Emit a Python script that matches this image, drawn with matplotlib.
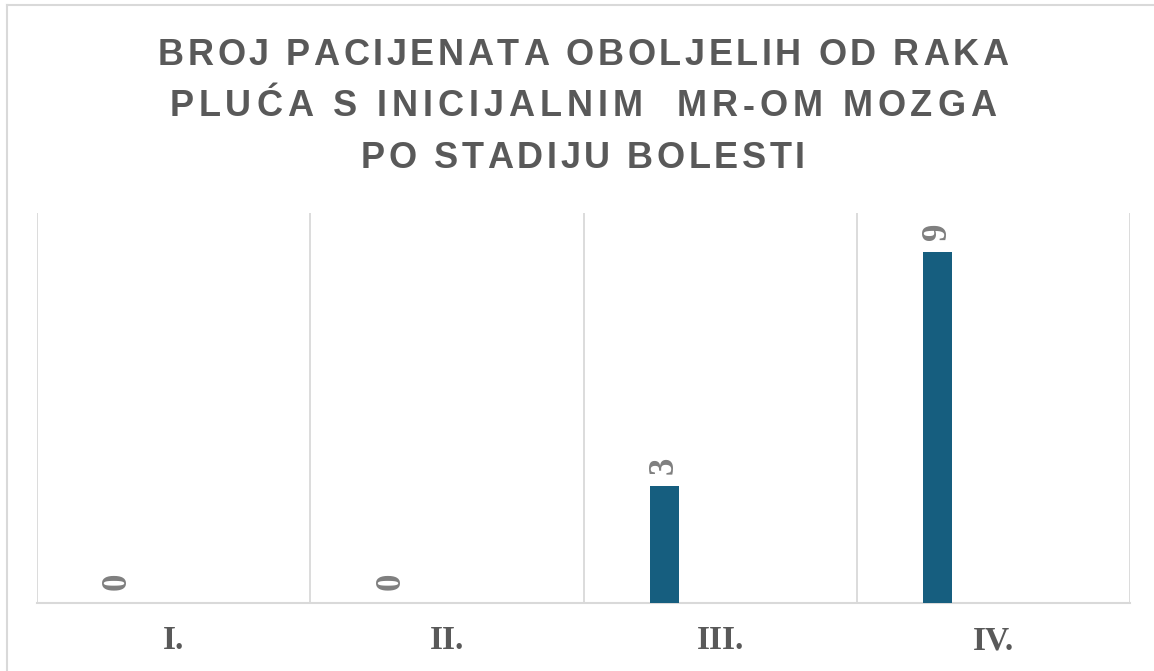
import matplotlib.pyplot as plt
import numpy as np

categories = ["I.", "II.", "III.", "IV."]
counts = [0, 0, 3, 9]
title_lines = ["BROJ PACIJENATA OBOLJELIH OD RAKA",
               "PLUĆA S INICIJALNIM  MR-OM MOZGA",
               "PO STADIJU BOLESTI"]
title_spacing = [3.6, 4.9, 3.6]

bar_color = "#165e7f"
text_gray = "#595959"
label_gray = "#7f7f7f"
grid_gray = "#d9d9d9"

W, H = 1154, 671
fig = plt.figure(figsize=(W / 100, H / 100), dpi=100)
ax = fig.add_axes([37 / W, 1 - 603 / H, (1130 - 37) / W, (603 - 213) / H])

x = np.arange(len(categories))
offset = -0.205
bars = ax.bar(x + offset, counts, width=0.106, color=bar_color, zorder=3)

for xi, v in zip(x, counts):
    ax.annotate(str(v), (xi + offset, v), xytext=(0, 9), textcoords="offset points",
                rotation=90, ha="center", va="bottom", fontsize=25, fontweight="bold",
                family="Liberation Serif", color=label_gray)

ax.set_xlim(-0.5, len(categories) - 0.5)
ax.set_ylim(0, 10)
for b in np.arange(-0.5, len(categories), 1.0):
    ax.axvline(b, color=grid_gray, lw=1.3, zorder=1)

ax.set_xticks(x)
ax.set_xticklabels(categories, fontsize=24, fontweight="bold", family="Liberation Serif", color=text_gray)
ax.tick_params(axis="x", length=0, pad=16)
ax.set_yticks([])
for side in ["top", "left", "right"]:
    ax.spines[side].set_visible(False)
ax.spines["bottom"].set_color(grid_gray)
ax.spines["bottom"].set_linewidth(1.5)


def spaced_line(text, center_px, baseline_px, spacing_px, **kw):
    # matplotlib has no letter spacing, so place the characters one by one
    renderer = fig.canvas.get_renderer()
    widths = []
    for ch in text:
        t = fig.text(0, 0, ch, **kw)
        widths.append(t.get_window_extent(renderer).width)
        t.remove()
    total = sum(widths) + spacing_px * (len(text) - 1)
    xpos = center_px - total / 2
    for ch, w in zip(text, widths):
        fig.text(xpos / W, 1 - baseline_px / H, ch, ha="left", va="baseline", **kw)
        xpos += w + spacing_px


title_style = dict(fontsize=26, fontweight="bold", family="Liberation Sans", color=text_gray)
for i, (line, sp) in enumerate(zip(title_lines, title_spacing)):
    spaced_line(line, 583, 65 + i * 51.5, sp, **title_style)

fig.add_artist(plt.Line2D([7 / W, 7 / W], [0, 1 - 5 / H], color=grid_gray, lw=1.5, transform=fig.transFigure))
fig.add_artist(plt.Line2D([7 / W, 1], [1 - 5 / H, 1 - 5 / H], color=grid_gray, lw=1.5, transform=fig.transFigure))

fig.savefig("out.png", dpi=100)
